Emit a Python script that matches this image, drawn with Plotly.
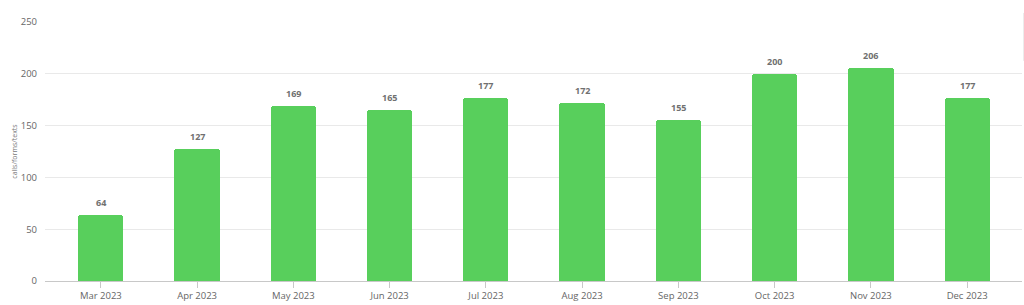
import plotly.graph_objects as go

months = ["Mar 2023", "Apr 2023", "May 2023", "Jun 2023", "Jul 2023",
          "Aug 2023", "Sep 2023", "Oct 2023", "Nov 2023", "Dec 2023"]
values = [64, 127, 169, 165, 177, 172, 155, 200, 206, 177]
y_ticks = [0, 50, 100, 150, 200, 250]

BAR = "#58CF5C"
FONT = "Open Sans"

fig = go.Figure()
fig.add_trace(go.Bar(
    x=months, y=values, marker=dict(color=BAR, line=dict(width=0), cornerradius=3),
    width=0.47, hoverinfo="x+y",
))
for m, v in zip(months, values):
    fig.add_annotation(x=m, y=v, text=f"<b>{v}</b>", showarrow=False,
                       yanchor="bottom", yshift=4,
                       font=dict(family=FONT, size=9, color="#707070"))

fig.add_shape(type="line", xref="paper", yref="paper", x0=1.002, x1=1.002,
              y0=0.85, y1=1.035, line=dict(color="#dddddd", width=1))

fig.update_layout(
    width=1024, height=305,
    margin=dict(l=45, r=2, t=22, b=24),
    paper_bgcolor="white", plot_bgcolor="white",
    showlegend=False, bargap=0,
    font=dict(family=FONT, color="#666666"),
    xaxis=dict(
        type="category", range=[-0.58, 9.57],
        showgrid=False, showline=True, linecolor="#c8c8c8", linewidth=1,
        ticks="outside", ticklen=6, tickcolor="#c8c8c8",
        tickfont=dict(family=FONT, size=9.5, color="#666666"),
    ),
    yaxis=dict(
        range=[0, 250], tickvals=y_ticks, showgrid=True, gridcolor="#e9e9e9",
        zeroline=False, showline=False, ticks="", ticklabelstandoff=7,
        tickfont=dict(family=FONT, size=9.5, color="#666666"),
        title=dict(text="calls/forms/texts", standoff=2,
                   font=dict(family=FONT, size=7, color="#777777")),
    ),
)
fig.write_html("out.html")
